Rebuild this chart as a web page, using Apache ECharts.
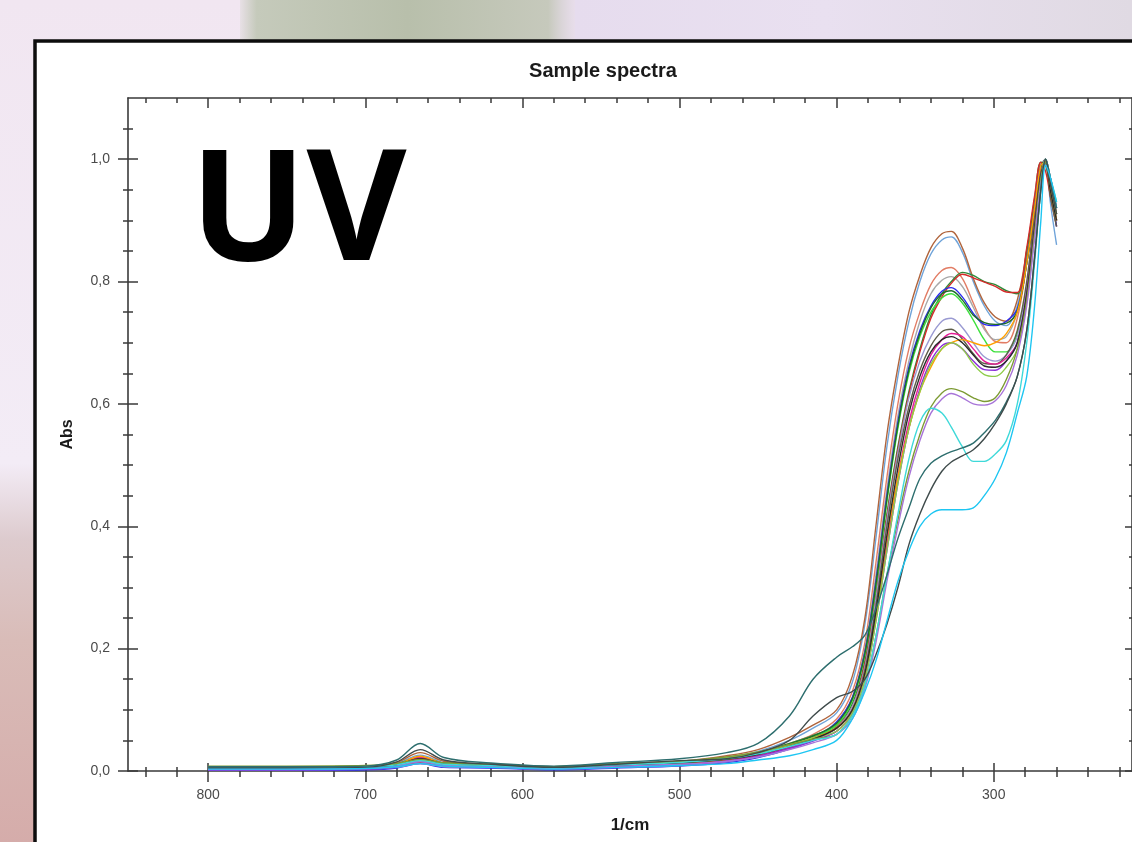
<!DOCTYPE html>
<html>
<head>
<meta charset="utf-8">
<script src="https://cdn.jsdelivr.net/npm/echarts@6/dist/echarts.min.js"></script>
<style>
html,body{margin:0;padding:0;background:#f2e9f2;overflow:hidden}
#c{width:1132px;height:842px}
</style>
</head>
<body>
<div id="c"></div>
<script>
// ---- data ----
const wavenumbers = [800,750,700,680,665,650,620,580,540,500,470,450,430,415,400,390,382,375,368,361,354,347,340,333,327,320,313,306,299,292,285,279,274,270,267,264,260];

const sampleBrown      = [0.006,0.006,0.007,0.014,0.030,0.016,0.010,0.006,0.012,0.016, 0.025,0.035,0.055,0.075,0.10,0.155,0.25,0.40,0.55,0.66,0.75,0.81,0.855,0.878,0.882,0.855,0.805,0.765,0.742,0.735,0.77,0.85,0.93,0.99,0.995,0.95,0.90];
const sampleSteelBlue  = [0.004,0.004,0.005,0.012,0.026,0.014,0.008,0.005,0.010,0.014, 0.022,0.032,0.05,0.07,0.095,0.145,0.24,0.38,0.53,0.645,0.735,0.80,0.845,0.868,0.873,0.848,0.80,0.76,0.735,0.728,0.76,0.84,0.92,0.985,1.0,0.93,0.86];
const sampleSalmon     = [0.005,0.005,0.006,0.010,0.020,0.012,0.009,0.006,0.010,0.013, 0.02,0.03,0.045,0.06,0.085,0.13,0.21,0.34,0.48,0.60,0.69,0.75,0.795,0.818,0.823,0.805,0.765,0.725,0.702,0.70,0.74,0.83,0.92,0.99,0.99,0.95,0.90];
const sampleGrey       = [0.003,0.003,0.004,0.008,0.016,0.010,0.007,0.004,0.008,0.011, 0.018,0.027,0.04,0.055,0.08,0.12,0.20,0.32,0.46,0.58,0.67,0.735,0.78,0.802,0.808,0.792,0.758,0.722,0.705,0.71,0.75,0.83,0.92,0.99,1.0,0.96,0.92];
const sampleDarkGreen  = [0.007,0.007,0.008,0.012,0.022,0.013,0.011,0.007,0.012,0.015, 0.022,0.03,0.045,0.058,0.075,0.11,0.18,0.29,0.42,0.53,0.62,0.69,0.745,0.78,0.80,0.815,0.81,0.80,0.795,0.785,0.78,0.85,0.935,0.995,0.99,0.95,0.90];
const sampleRed        = [0.002,0.002,0.003,0.006,0.014,0.008,0.006,0.003,0.007,0.010, 0.016,0.024,0.038,0.052,0.072,0.105,0.175,0.285,0.415,0.525,0.615,0.685,0.74,0.775,0.797,0.812,0.806,0.799,0.792,0.783,0.782,0.855,0.94,0.995,0.98,0.94,0.89];
const sampleBlue       = [0.001,0.001,0.002,0.005,0.012,0.006,0.005,0.002,0.005,0.008, 0.014,0.022,0.036,0.052,0.08,0.12,0.195,0.31,0.45,0.57,0.66,0.72,0.76,0.784,0.79,0.775,0.748,0.73,0.728,0.735,0.755,0.83,0.92,0.99,0.995,0.95,0.89];
const sampleLime       = [0.004,0.004,0.005,0.008,0.016,0.010,0.008,0.004,0.008,0.012, 0.02,0.028,0.042,0.055,0.075,0.115,0.19,0.30,0.44,0.56,0.65,0.71,0.75,0.773,0.78,0.765,0.737,0.705,0.685,0.685,0.715,0.79,0.90,0.98,0.995,0.96,0.91];
const sampleForest     = [0.005,0.005,0.006,0.009,0.018,0.011,0.009,0.005,0.009,0.013, 0.021,0.03,0.044,0.057,0.078,0.118,0.192,0.305,0.445,0.565,0.655,0.715,0.757,0.78,0.785,0.77,0.745,0.733,0.73,0.732,0.752,0.83,0.915,0.985,1.0,0.96,0.92];
const sampleLavender   = [0.002,0.002,0.003,0.006,0.012,0.007,0.006,0.003,0.006,0.009, 0.015,0.023,0.036,0.05,0.07,0.105,0.17,0.28,0.41,0.52,0.61,0.67,0.71,0.735,0.74,0.725,0.70,0.677,0.67,0.68,0.71,0.79,0.90,0.98,0.99,0.95,0.90];
const sampleDarkGrey   = [0.006,0.006,0.007,0.010,0.020,0.012,0.010,0.006,0.010,0.014, 0.02,0.028,0.042,0.054,0.07,0.10,0.165,0.27,0.40,0.51,0.595,0.655,0.695,0.718,0.722,0.706,0.682,0.666,0.665,0.68,0.72,0.80,0.91,0.985,0.99,0.94,0.89];
const sampleMagenta    = [0.003,0.003,0.004,0.009,0.022,0.011,0.007,0.003,0.007,0.011, 0.017,0.025,0.038,0.05,0.065,0.095,0.155,0.25,0.37,0.48,0.57,0.635,0.68,0.705,0.715,0.71,0.69,0.67,0.665,0.675,0.70,0.78,0.89,0.975,1.0,0.96,0.91];
const samplePurple     = [0.002,0.002,0.003,0.007,0.016,0.009,0.006,0.003,0.006,0.010, 0.016,0.024,0.037,0.049,0.065,0.095,0.15,0.245,0.36,0.47,0.56,0.625,0.67,0.695,0.70,0.69,0.67,0.656,0.655,0.67,0.70,0.78,0.88,0.97,1.0,0.97,0.92];
const sampleOrange     = [0.004,0.004,0.005,0.010,0.024,0.012,0.008,0.005,0.009,0.013, 0.019,0.028,0.042,0.054,0.07,0.10,0.16,0.25,0.38,0.48,0.56,0.62,0.66,0.69,0.70,0.705,0.70,0.695,0.70,0.715,0.75,0.83,0.92,0.99,0.995,0.95,0.90];
const sampleLightGreen = [0.007,0.007,0.008,0.011,0.018,0.012,0.010,0.006,0.011,0.015, 0.022,0.03,0.043,0.054,0.065,0.095,0.15,0.245,0.36,0.47,0.56,0.62,0.665,0.69,0.70,0.69,0.665,0.648,0.645,0.66,0.69,0.77,0.88,0.97,1.0,0.97,0.93];
const sampleBlack      = [0.005,0.005,0.006,0.010,0.020,0.012,0.009,0.005,0.009,0.013, 0.019,0.027,0.04,0.052,0.07,0.10,0.16,0.26,0.385,0.495,0.585,0.645,0.685,0.705,0.71,0.70,0.68,0.662,0.66,0.67,0.70,0.78,0.89,0.975,0.995,0.95,0.90];
const sampleOlive      = [0.008,0.008,0.009,0.012,0.019,0.013,0.011,0.007,0.012,0.016, 0.023,0.031,0.043,0.052,0.06,0.09,0.14,0.22,0.32,0.41,0.49,0.55,0.595,0.618,0.625,0.62,0.61,0.604,0.61,0.64,0.69,0.77,0.88,0.97,0.995,0.96,0.91];
const sampleViolet     = [0.003,0.003,0.004,0.008,0.015,0.009,0.007,0.004,0.008,0.011, 0.016,0.023,0.035,0.046,0.06,0.085,0.135,0.21,0.31,0.40,0.48,0.54,0.585,0.608,0.617,0.61,0.60,0.598,0.605,0.63,0.68,0.76,0.87,0.96,0.99,0.97,0.92];
const sampleCyan       = [0.006,0.006,0.007,0.010,0.017,0.011,0.009,0.005,0.010,0.014, 0.02,0.028,0.04,0.05,0.06,0.09,0.14,0.22,0.32,0.42,0.51,0.57,0.593,0.585,0.562,0.53,0.506,0.506,0.518,0.54,0.60,0.70,0.83,0.95,1.0,0.97,0.92];
const sampleDarkTeal   = [0.007,0.007,0.008,0.018,0.045,0.022,0.013,0.008,0.014,0.020, 0.03,0.045,0.09,0.15,0.186,0.203,0.222,0.265,0.32,0.38,0.43,0.478,0.503,0.515,0.522,0.528,0.536,0.553,0.573,0.603,0.645,0.72,0.84,0.95,1.0,0.97,0.92];
const sampleSlate      = [0.005,0.005,0.006,0.015,0.035,0.018,0.011,0.006,0.011,0.017, 0.02,0.03,0.05,0.09,0.12,0.13,0.15,0.19,0.24,0.30,0.37,0.42,0.46,0.49,0.505,0.515,0.525,0.543,0.568,0.60,0.645,0.72,0.84,0.95,1.0,0.96,0.91];
const sampleSky        = [0.003,0.003,0.004,0.007,0.012,0.008,0.006,0.003,0.006,0.009, 0.012,0.018,0.025,0.035,0.05,0.085,0.13,0.18,0.245,0.31,0.36,0.40,0.42,0.427,0.427,0.427,0.43,0.45,0.478,0.52,0.585,0.645,0.76,0.90,0.99,0.97,0.93];

const spectra = [
  ['Sample 1', '#6fa3d9', sampleSteelBlue],
  ['Sample 2', '#b0643c', sampleBrown],
  ['Sample 3', '#e27c64', sampleSalmon],
  ['Sample 4', '#a8a8a8', sampleGrey],
  ['Sample 5', '#2f8a3a', sampleDarkGreen],
  ['Sample 6', '#d42a2a', sampleRed],
  ['Sample 7', '#2a2aee', sampleBlue],
  ['Sample 8', '#3ee03e', sampleLime],
  ['Sample 9', '#1f6b2a', sampleForest],
  ['Sample 10', '#9a9ad2', sampleLavender],
  ['Sample 11', '#5e5e4a', sampleDarkGrey],
  ['Sample 12', '#e61e96', sampleMagenta],
  ['Sample 13', '#8c2fd8', samplePurple],
  ['Sample 14', '#ffa000', sampleOrange],
  ['Sample 15', '#8fcc4a', sampleLightGreen],
  ['Sample 16', '#2a2a2a', sampleBlack],
  ['Sample 17', '#7d9b34', sampleOlive],
  ['Sample 18', '#a774d8', sampleViolet],
  ['Sample 19', '#3fd9d9', sampleCyan],
  ['Sample 20', '#2d6e6e', sampleDarkTeal],
  ['Sample 21', '#3f4b4b', sampleSlate],
  ['Sample 22', '#1ec6f2', sampleSky]
];

// ---- ticks / labels ----
const xMajorTicks = [300,400,500,600,700,800];
const xMinorTicks = [220,240,260,280,320,340,360,380,420,440,460,480,520,540,560,580,620,640,660,680,720,740,760,780,820,840];
const yMajorTicks = [0,0.2,0.4,0.6,0.8,1.0];
const yMinorTicks = [0.05,0.1,0.15,0.25,0.3,0.35,0.45,0.5,0.55,0.65,0.7,0.75,0.85,0.9,0.95,1.05];

const X_MIN = 212, X_MAX = 851, Y_MIN = 0, Y_MAX = 1.1;
const FONT = "'Liberation Sans', Arial, sans-serif";
const AXIS_COLOR = '#3a3a3a';

function tickAxis(kind, pos, ticks, len, inside, extra) {
  const base = {
    type: 'value', position: pos, gridIndex: 0,
    min: kind === 'x' ? X_MIN : Y_MIN,
    max: kind === 'x' ? X_MAX : Y_MAX,
    inverse: kind === 'x',
    axisLine: { show: false, onZero: false },
    splitLine: { show: false },
    axisLabel: { show: false },
    axisTick: { show: true, inside: inside, length: len, customValues: ticks,
                lineStyle: { color: AXIS_COLOR, width: 1.5 } }
  };
  return Object.assign(base, extra || {});
}

const xAxes = [
  tickAxis('x', 'bottom', xMajorTicks, 11, false, {
    axisLine: { show: true, onZero: false, lineStyle: { color: AXIS_COLOR, width: 1.6 } },
    axisLabel: { show: true, customValues: xMajorTicks, margin: 17, fontFamily: FONT, fontSize: 14, color: '#4a4a4a',
                 formatter: v => String(v) },
    name: '1/cm', nameLocation: 'middle', nameGap: 46,
    nameTextStyle: { fontFamily: FONT, fontSize: 17, fontWeight: 'bold', color: '#1a1a1a' }
  }),
  tickAxis('x', 'bottom', xMajorTicks, 8, true),
  tickAxis('x', 'bottom', xMinorTicks, 6, false),
  tickAxis('x', 'bottom', xMinorTicks, 4, true),
  tickAxis('x', 'top', xMajorTicks, 10, true, {
    axisLine: { show: true, onZero: false, lineStyle: { color: AXIS_COLOR, width: 1.6 } }
  }),
  tickAxis('x', 'top', xMinorTicks, 5, true)
];

const yAxes = [
  tickAxis('y', 'left', yMajorTicks, 10, false, {
    axisLine: { show: true, onZero: false, lineStyle: { color: AXIS_COLOR, width: 1.6 } },
    axisLabel: { show: true, customValues: yMajorTicks, margin: 18, fontFamily: FONT, fontSize: 14, color: '#4a4a4a',
                 formatter: v => v.toFixed(1).replace('.', ',') },
    name: 'Abs', nameLocation: 'middle', nameGap: 52,
    nameTextStyle: { fontFamily: FONT, fontSize: 16, fontWeight: 'bold', color: '#1a1a1a' }
  }),
  tickAxis('y', 'left', yMajorTicks, 10, true),
  tickAxis('y', 'left', yMinorTicks, 5, false),
  tickAxis('y', 'left', yMinorTicks, 5, true),
  tickAxis('y', 'right', yMajorTicks, 7, true, {
    axisLine: { show: true, onZero: false, lineStyle: { color: AXIS_COLOR, width: 1.6 } }
  }),
  tickAxis('y', 'right', yMinorTicks, 3, true)
];

const series = spectra.map(([name, color, values]) => ({
  name: name,
  type: 'line',
  xAxisIndex: 0,
  yAxisIndex: 0,
  data: wavenumbers.map((w, i) => [w, values[i]]),
  smooth: 0.35,
  showSymbol: false,
  symbol: 'none',
  lineStyle: { color: color, width: 1.4 },
  itemStyle: { color: color },
  z: 3
}));

const bgLeft = { type: 'linear', x: 0, y: 0, x2: 0, y2: 1, colorStops: [
  { offset: 0, color: '#f1e6f1' }, { offset: 0.55, color: '#f3ecf6' },
  { offset: 0.64, color: '#ddcbce' }, { offset: 0.76, color: '#d9bcb8' }, { offset: 1, color: '#d5acaa' } ] };
const bgTopGreen = { type: 'linear', x: 0, y: 0, x2: 1, y2: 0, colorStops: [
  { offset: 0, color: 'rgba(195,200,185,0.2)' }, { offset: 0.05, color: '#c5cabb' },
  { offset: 0.5, color: '#b8bfab' }, { offset: 0.92, color: '#c6c9bc' }, { offset: 1, color: 'rgba(225,215,230,0.6)' } ] };
const bgTopRight = { type: 'linear', x: 0, y: 0, x2: 1, y2: 0, colorStops: [
  { offset: 0, color: '#e6dcee' }, { offset: 0.45, color: '#e9e0f0' }, { offset: 1, color: '#e0dae3' } ] };

const chart = echarts.init(document.getElementById('c'), null, { renderer: 'canvas' });
chart.setOption({
  animation: false,
  backgroundColor: 'transparent',
  grid: { left: 128, top: 98, width: 1005, height: 673, containLabel: false },
  xAxis: xAxes,
  yAxis: yAxes,
  series: series,
  graphic: [
    { type: 'rect', z: -100, silent: true, shape: { x: 0, y: 0, width: 1132, height: 842 }, style: { fill: bgLeft } },
    { type: 'rect', z: -99, silent: true, shape: { x: 240, y: 0, width: 335, height: 42 }, style: { fill: bgTopGreen } },
    { type: 'rect', z: -99, silent: true, shape: { x: 575, y: 0, width: 557, height: 42 }, style: { fill: bgTopRight } },
    { type: 'rect', z: -98, silent: true, shape: { x: 35, y: 41, width: 1200, height: 900 },
      style: { fill: '#ffffff', stroke: '#0d0d0d', lineWidth: 3.5 } },
    { type: 'text', z: 10, x: 603, y: 61,
      style: { text: 'Sample spectra', font: 'bold 20px ' + FONT, fill: '#1a1a1a', align: 'center', textAlign: 'center' } },
    { type: 'text', z: 10, x: 190, y: 139,
      style: { text: 'UV', font: 'bold 154px "Open Sans", "Liberation Sans", sans-serif', fill: '#000000' } }
  ]
});
</script>
</body>
</html>
